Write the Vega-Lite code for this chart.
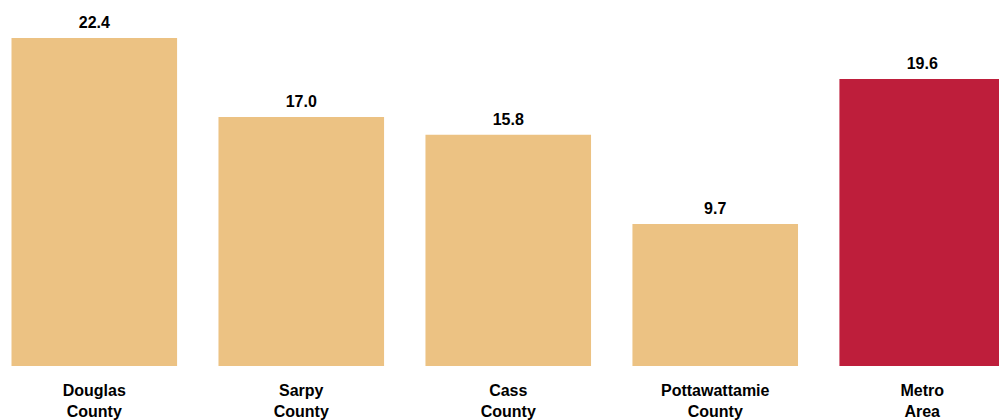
{
  "$schema": "https://vega.github.io/schema/vega-lite/v6.json",
  "width": 999,
  "height": 366,
  "autosize": "none",
  "padding": {"left": 0, "top": 0, "right": 0, "bottom": 54},
  "background": "white",
  "config": {"view": {"stroke": null}},
  "data": {"values": [
    {"region": "Douglas County", "value": 22.4, "group": "county"},
    {"region": "Sarpy County", "value": 17.0, "group": "county"},
    {"region": "Cass County", "value": 15.8, "group": "county"},
    {"region": "Pottawattamie County", "value": 9.7, "group": "county"},
    {"region": "Metro Area", "value": 19.6, "group": "metro"}
  ]},
  "encoding": {
    "x": {"field": "region", "type": "nominal", "sort": null,
      "scale": {"range": [11.5, 1005], "paddingInner": 0.2, "paddingOuter": 0},
      "axis": {"title": null, "domain": false, "ticks": false, "labelAngle": 0,
        "labelExpr": "split(datum.label, ' ')", "labelFont": "Liberation Sans",
        "labelFontSize": 16, "labelFontWeight": "bold", "labelColor": "#000000",
        "labelPadding": 16, "labelLineHeight": 21}},
    "y": {"field": "value", "type": "quantitative", "scale": {"domain": [0, 25]}, "axis": null}
  },
  "layer": [
    {"mark": {"type": "bar"},
     "encoding": {"color": {"field": "group", "type": "nominal",
       "scale": {"domain": ["county", "metro"], "range": ["#ECC283", "#BE1E3B"]}, "legend": null}}},
    {"mark": {"type": "text", "baseline": "alphabetic", "dy": -10, "font": "Liberation Sans",
      "fontSize": 16, "fontWeight": "bold", "color": "#000000"},
     "encoding": {"text": {"field": "value", "type": "quantitative", "format": ".1f"}}}
  ]
}
